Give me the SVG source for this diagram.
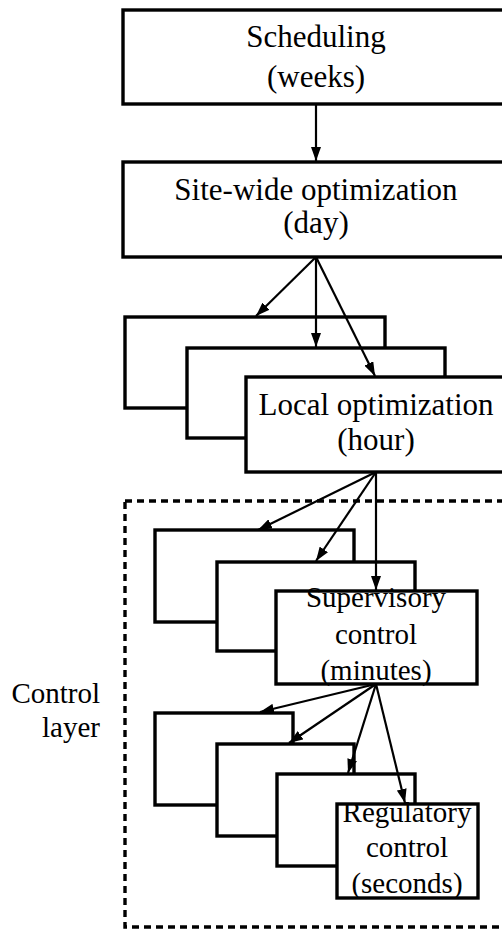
<svg xmlns="http://www.w3.org/2000/svg" width="502" height="930" viewBox="0 0 502 930">
<defs>
<style>
.box{fill:#fff;stroke:#000;stroke-width:3.4}
.t{font-family:"Liberation Serif","Times New Roman",serif;fill:#000;text-anchor:middle}
.big{font-size:31px}
.sm{font-size:29px}
.arr{stroke:#000;stroke-width:2.2;fill:none;marker-end:url(#ah)}
.dash{fill:none;stroke:#000;stroke-width:3.4;stroke-dasharray:7 5}
</style>
<marker id="ah" viewBox="0 0 14 10" refX="14" refY="5" markerWidth="14" markerHeight="10" markerUnits="userSpaceOnUse" orient="auto">
<path d="M0,0 L14,5 L0,10 Z" fill="#000"/>
</marker>
</defs>
<rect id="control-layer" class="dash" x="125" y="501" width="400" height="426"/>
<g id="scheduling">
<rect class="box" x="123" y="10" width="386" height="94"/>
<text class="t big" x="316" y="47">Scheduling</text>
<text class="t big" x="316" y="87">(weeks)</text>
</g>
<g id="site-wide">
<rect class="box" x="123" y="162" width="386" height="95"/>
<text class="t big" x="316" y="200">Site-wide optimization</text>
<text class="t big" x="316" y="233">(day)</text>
</g>
<g id="local-back1"><rect class="box" x="125" y="317" width="260" height="91"/></g>
<g id="local-back2"><rect class="box" x="187" y="348" width="258" height="90"/></g>
<g id="local">
<rect class="box" x="246" y="377" width="260" height="95"/>
<text class="t big" x="376" y="415">Local optimization</text>
<text class="t big" x="376" y="450">(hour)</text>
</g>
<g id="sup-back1"><rect class="box" x="155" y="530" width="199" height="92"/></g>
<g id="sup-back2"><rect class="box" x="217" y="562" width="198" height="89"/></g>
<g id="supervisory">
<rect class="box" x="276" y="591" width="201" height="93"/>
<text class="t sm" x="376" y="607">Supervisory</text>
<text class="t sm" x="376" y="644">control</text>
<text class="t sm" x="376" y="680">(minutes)</text>
</g>
<g id="reg-back1"><rect class="box" x="155" y="713" width="138" height="92"/></g>
<g id="reg-back2"><rect class="box" x="217" y="744" width="137" height="92"/></g>
<g id="reg-back3"><rect class="box" x="277" y="774" width="138" height="92"/></g>
<g id="regulatory">
<rect class="box" x="337" y="804" width="141" height="94"/>
<text class="t sm" x="407" y="822">Regulatory</text>
<text class="t sm" x="407" y="857">control</text>
<text class="t sm" x="407" y="893">(seconds)</text>
</g>
<g id="label">
<text class="t sm" x="100" y="703" style="text-anchor:end">Control</text>
<text class="t sm" x="100" y="737" style="text-anchor:end">layer</text>
</g>
<g id="connectors">
<line class="arr" x1="316" y1="104" x2="316" y2="161"/>
<line class="arr" x1="316" y1="257" x2="256" y2="316"/>
<line class="arr" x1="316" y1="257" x2="316" y2="347"/>
<line class="arr" x1="316" y1="257" x2="375" y2="376"/>
<line class="arr" x1="376" y1="472" x2="258" y2="530"/>
<line class="arr" x1="376" y1="472" x2="316" y2="561"/>
<line class="arr" x1="376" y1="472" x2="376" y2="590"/>
<line class="arr" x1="376" y1="684" x2="260" y2="712"/>
<line class="arr" x1="376" y1="684" x2="289" y2="743"/>
<line class="arr" x1="376" y1="684" x2="348" y2="773"/>
<line class="arr" x1="376" y1="684" x2="405" y2="803"/>
</g>
</svg>
